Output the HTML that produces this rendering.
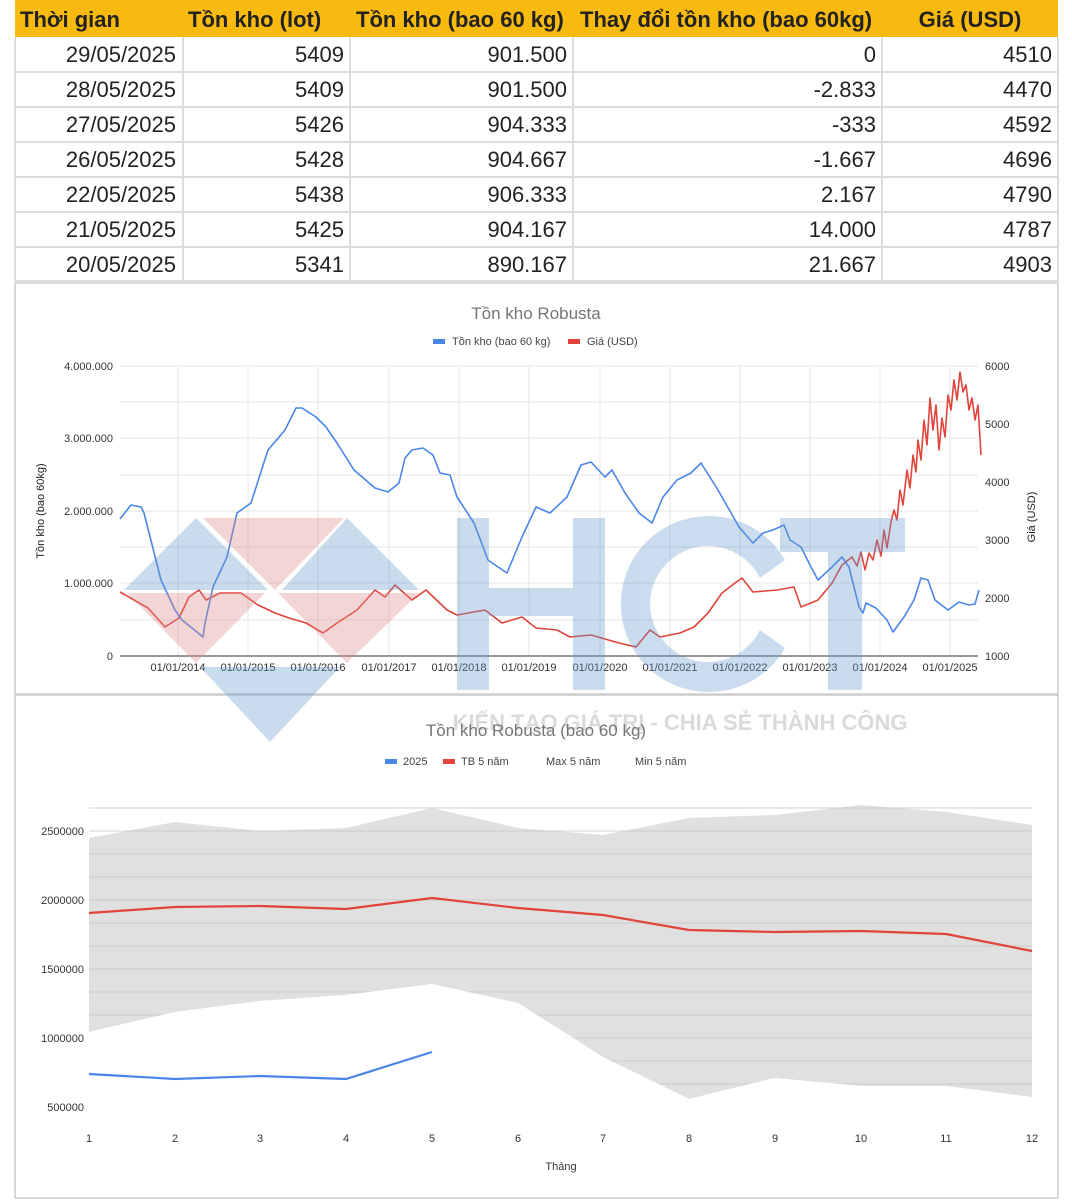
<!DOCTYPE html>
<html><head><meta charset="utf-8"><style>
html,body{margin:0;padding:0;background:#fff}
svg{display:block;font-family:"Liberation Sans",Arial,sans-serif}
</style></head><body>
<svg width="1072" height="1200" viewBox="0 0 1072 1200" xmlns="http://www.w3.org/2000/svg">
<!-- TABLE -->
<rect x="15" y="0" width="1043" height="37" fill="#f9ba0f"/>
<g fill="none" stroke="#dcdcdc" stroke-width="2">
<line x1="15" y1="72" x2="1058" y2="72"/><line x1="15" y1="107" x2="1058" y2="107"/><line x1="15" y1="142" x2="1058" y2="142"/><line x1="15" y1="177" x2="1058" y2="177"/><line x1="15" y1="212" x2="1058" y2="212"/><line x1="15" y1="247" x2="1058" y2="247"/><line x1="15" y1="281" x2="1058" y2="281"/>
<line x1="183" y1="37" x2="183" y2="281"/><line x1="350" y1="37" x2="350" y2="281"/><line x1="573" y1="37" x2="573" y2="281"/><line x1="882" y1="37" x2="882" y2="281"/><line x1="15" y1="37" x2="15" y2="281"/><line x1="1058" y1="37" x2="1058" y2="281"/>
</g>
<g font-size="22" font-weight="bold" fill="#222">
<text x="20" y="27">Thời gian</text><text x="188" y="27">Tồn kho (lot)</text><text x="356" y="27">Tồn kho (bao 60 kg)</text><text x="580" y="27">Thay đổi tồn kho (bao 60kg)</text><text x="970" y="27" text-anchor="middle">Giá (USD)</text>
</g>
<g font-size="22" fill="#222" text-anchor="end">
<text x="176" y="62">29/05/2025</text><text x="344" y="62">5409</text><text x="567" y="62">901.500</text><text x="876" y="62">0</text><text x="1052" y="62">4510</text>
<text x="176" y="97">28/05/2025</text><text x="344" y="97">5409</text><text x="567" y="97">901.500</text><text x="876" y="97">-2.833</text><text x="1052" y="97">4470</text>
<text x="176" y="132">27/05/2025</text><text x="344" y="132">5426</text><text x="567" y="132">904.333</text><text x="876" y="132">-333</text><text x="1052" y="132">4592</text>
<text x="176" y="167">26/05/2025</text><text x="344" y="167">5428</text><text x="567" y="167">904.667</text><text x="876" y="167">-1.667</text><text x="1052" y="167">4696</text>
<text x="176" y="202">22/05/2025</text><text x="344" y="202">5438</text><text x="567" y="202">906.333</text><text x="876" y="202">2.167</text><text x="1052" y="202">4790</text>
<text x="176" y="237">21/05/2025</text><text x="344" y="237">5425</text><text x="567" y="237">904.167</text><text x="876" y="237">14.000</text><text x="1052" y="237">4787</text>
<text x="176" y="272">20/05/2025</text><text x="344" y="272">5341</text><text x="567" y="272">890.167</text><text x="876" y="272">21.667</text><text x="1052" y="272">4903</text>
</g>
<!-- PANELS -->
<rect x="15" y="283" width="1043" height="411" fill="#fff" stroke="#ccc" stroke-width="1.5"/>
<rect x="15" y="695" width="1043" height="503" fill="#fff" stroke="#ccc" stroke-width="1.5"/>
<!-- CHART 1 -->
<text x="536" y="319" font-size="17" fill="#757575" text-anchor="middle">Tồn kho Robusta</text>
<rect x="433" y="339" width="12" height="5" fill="#4a86e8"/><text x="452" y="345" font-size="11" fill="#444">Tồn kho (bao 60 kg)</text>
<rect x="568" y="339" width="12" height="5" fill="#e0443a"/><text x="587" y="345" font-size="11" fill="#444">Giá (USD)</text>
<g stroke="#e4e4e4" stroke-width="1">
<line x1="120" y1="366" x2="978" y2="366"/><line x1="120" y1="402" x2="978" y2="402"/><line x1="120" y1="438" x2="978" y2="438"/><line x1="120" y1="475" x2="978" y2="475"/><line x1="120" y1="511" x2="978" y2="511"/><line x1="120" y1="547" x2="978" y2="547"/><line x1="120" y1="583" x2="978" y2="583"/><line x1="120" y1="620" x2="978" y2="620"/>
<line x1="178" y1="366" x2="178" y2="656"/><line x1="248" y1="366" x2="248" y2="656"/><line x1="318" y1="366" x2="318" y2="656"/><line x1="389" y1="366" x2="389" y2="656"/><line x1="459" y1="366" x2="459" y2="656"/><line x1="529" y1="366" x2="529" y2="656"/><line x1="600" y1="366" x2="600" y2="656"/><line x1="670" y1="366" x2="670" y2="656"/><line x1="740" y1="366" x2="740" y2="656"/><line x1="810" y1="366" x2="810" y2="656"/><line x1="880" y1="366" x2="880" y2="656"/><line x1="950" y1="366" x2="950" y2="656"/>
</g>
<line x1="120" y1="656" x2="978" y2="656" stroke="#333" stroke-width="1"/>
<g font-size="11" fill="#333" text-anchor="end">
<text x="113" y="370">4.000.000</text><text x="113" y="442">3.000.000</text><text x="113" y="515">2.000.000</text><text x="113" y="587">1.000.000</text><text x="113" y="660">0</text>
</g>
<g font-size="11" fill="#333">
<text x="985" y="370">6000</text><text x="985" y="428">5000</text><text x="985" y="486">4000</text><text x="985" y="544">3000</text><text x="985" y="602">2000</text><text x="985" y="660">1000</text>
</g>
<g font-size="11" fill="#333" text-anchor="middle">
<text x="178" y="671">01/01/2014</text><text x="248" y="671">01/01/2015</text><text x="318" y="671">01/01/2016</text><text x="389" y="671">01/01/2017</text><text x="459" y="671">01/01/2018</text><text x="529" y="671">01/01/2019</text><text x="600" y="671">01/01/2020</text><text x="670" y="671">01/01/2021</text><text x="740" y="671">01/01/2022</text><text x="810" y="671">01/01/2023</text><text x="880" y="671">01/01/2024</text><text x="950" y="671">01/01/2025</text>
</g>
<text transform="translate(44,511) rotate(-90)" font-size="11" fill="#222" text-anchor="middle">Tồn kho (bao 60kg)</text>
<text transform="translate(1035,517) rotate(-90)" font-size="11" fill="#222" text-anchor="middle">Giá (USD)</text>
<polyline fill="none" stroke="#e0443a" stroke-width="1.6" stroke-linejoin="round" points="120,592 134,600 148,608 165,627 179,618 189,597 199,590 206,600 220,593 241,593 258,605 275,613 289,618 306,623 323,633 337,623 357,610 375,590 385,597 395,585 412,600 426,590 447,610 457,615 485,610 502,623 522,617 536,628 557,630 570,637 591,635 619,643 636,647 650,630 660,637 680,633 694,627 708,613 722,593 735,583 742,578 753,592 777,590 794,587 801,607 818,600 832,583 842,565 852,557 857,566 861,552 865,570 869,553 873,560 877,540 881,556 884,530 887,548 891,522 894,510 897,520 900,490 903,505 907,470 910,488 913,455 916,472 918,440 921,460 924,420 927,445 930,398 933,430 936,405 939,450 942,418 945,437 948,395 951,410 954,380 957,400 960,372 963,392 966,385 969,410 972,398 975,420 978,405 981,455"/>
<polyline fill="none" stroke="#4a86e8" stroke-width="1.6" stroke-linejoin="round" points="120,519 131,505 141,507 144,513 161,580 175,610 182,620 192,628 203,637 205,623 213,587 227,557 237,513 251,503 268,450 285,430 296,408 302,408 316,417 326,427 337,443 354,470 375,488 388,492 399,483 405,458 412,450 423,448 433,455 440,473 450,475 457,497 474,523 488,560 498,567 507,573 522,537 536,507 550,513 567,497 581,465 591,462 605,477 612,470 625,493 639,513 652,523 663,497 677,480 691,473 701,463 718,490 739,527 753,543 763,533 773,530 784,525 790,540 801,547 811,567 818,580 832,567 842,557 849,567 859,607 863,613 866,603 876,608 887,620 893,632 904,617 914,600 921,578 928,580 935,600 948,610 959,602 969,605 975,604 979,590"/>
<!-- WATERMARK -->
<g opacity="0.35">
<polygon points="124,590 196,518 268,590" fill="#6b9bd1"/>
<polygon points="282,590 347,518 419,590" fill="#6b9bd1"/>
<polygon points="127,593 265,593 196,663" fill="#e08a8a"/>
<polygon points="203,518 344,518 275,590" fill="#e08a8a"/>
<polygon points="278,593 419,593 347,663" fill="#e08a8a"/>
<polygon points="200,667 340,667 270,742" fill="#6b9bd1"/>
<g fill="#6b9bd1">
<rect x="457" y="518" width="32" height="172"/><rect x="573" y="518" width="32" height="172"/><rect x="489" y="588" width="84" height="28"/>
<path d="M785,560 A88,88 0 1 0 785,648 L760,630 A58,58 0 1 1 760,578 Z"/>
<rect x="780" y="518" width="125" height="34"/><rect x="828" y="518" width="34" height="172"/>
</g>
</g>
<text x="680" y="730" font-size="22" font-weight="bold" fill="#dadada" text-anchor="middle">KIẾN TẠO GIÁ TRỊ - CHIA SẺ THÀNH CÔNG</text>
<!-- CHART 2 -->
<text x="536" y="736" font-size="17" fill="#757575" text-anchor="middle">Tồn kho Robusta (bao 60 kg)</text>
<rect x="385" y="759" width="12" height="5" fill="#4a86e8"/><text x="403" y="765" font-size="11" fill="#444">2025</text>
<rect x="443" y="759" width="12" height="5" fill="#e0443a"/><text x="461" y="765" font-size="11" fill="#444">TB 5 năm</text>
<text x="546" y="765" font-size="11" fill="#444">Max 5 năm</text>
<text x="635" y="765" font-size="11" fill="#444">Min 5 năm</text>
<polygon fill="#e0e0e0" points="89,838 175,822 260,831 346,828 432,808 518,828 603,835 689,818 775,815 861,805 946,812 1032,825 1032,1097 946,1086 861,1086 775,1078 689,1099 603,1057 518,1003 432,984 346,995 260,1001 175,1012 89,1032"/>
<g stroke="#c9c9c9" stroke-width="1" opacity="0.8">
<line x1="89" y1="808" x2="1032" y2="808"/><line x1="89" y1="831" x2="1032" y2="831"/><line x1="89" y1="854" x2="1032" y2="854"/><line x1="89" y1="877" x2="1032" y2="877"/><line x1="89" y1="900" x2="1032" y2="900"/><line x1="89" y1="923" x2="1032" y2="923"/><line x1="89" y1="946" x2="1032" y2="946"/><line x1="89" y1="969" x2="1032" y2="969"/><line x1="89" y1="992" x2="1032" y2="992"/><line x1="89" y1="1015" x2="1032" y2="1015"/><line x1="89" y1="1038" x2="1032" y2="1038"/><line x1="89" y1="1061" x2="1032" y2="1061"/><line x1="89" y1="1084" x2="1032" y2="1084"/><line x1="89" y1="1107" x2="1032" y2="1107"/>
</g>
<polygon fill="#fff" points="89,1032 175,1012 260,1001 346,995 432,984 518,1003 603,1057 689,1099 775,1078 861,1086 946,1086 1032,1097 1032,1125 89,1125"/>
<polyline fill="none" stroke="#e0443a" stroke-width="2.2" points="89,913 175,907 260,906 346,909 432,898 518,908 603,915 689,930 775,932 861,931 946,934 1032,951"/>
<polyline fill="none" stroke="#4a86e8" stroke-width="2.2" points="89,1074 175,1079 260,1076 346,1079 432,1052"/>
<g font-size="11" fill="#333" text-anchor="end">
<text x="84" y="835">2500000</text><text x="84" y="904">2000000</text><text x="84" y="973">1500000</text><text x="84" y="1042">1000000</text><text x="84" y="1111">500000</text>
</g>
<g font-size="11" fill="#333" text-anchor="middle">
<text x="89" y="1142">1</text><text x="175" y="1142">2</text><text x="260" y="1142">3</text><text x="346" y="1142">4</text><text x="432" y="1142">5</text><text x="518" y="1142">6</text><text x="603" y="1142">7</text><text x="689" y="1142">8</text><text x="775" y="1142">9</text><text x="861" y="1142">10</text><text x="946" y="1142">11</text><text x="1032" y="1142">12</text>
<text x="561" y="1170">Tháng</text>
</g>
</svg>
</body></html>
